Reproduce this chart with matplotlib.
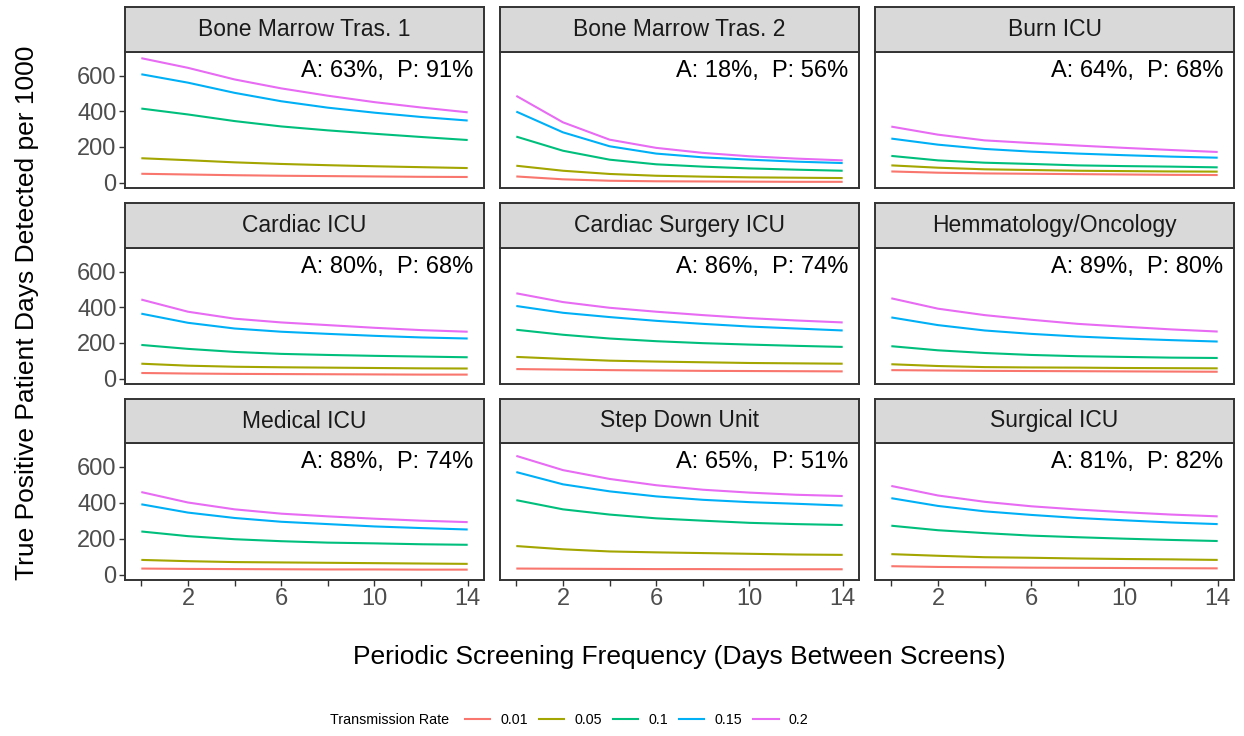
import numpy as np
import matplotlib
matplotlib.use('Agg')
from matplotlib import pyplot as plt
from matplotlib import font_manager
from matplotlib.lines import Line2D

# days between screens (x) for every curve
days = [0, 2, 4, 6, 8, 10, 12, 14]
rates = ['0.01', '0.05', '0.1', '0.15', '0.2']
colors = ['#F8766D', '#A3A500', '#00BF7D', '#00B0F6', '#E76BF3']

units = ['Bone Marrow Tras. 1', 'Bone Marrow Tras. 2', 'Burn ICU',
         'Cardiac ICU', 'Cardiac Surgery ICU', 'Hemmatology/Oncology',
         'Medical ICU', 'Step Down Unit', 'Surgical ICU']
acc = [63, 18, 64, 80, 86, 89, 88, 65, 81]
ppv = [91, 56, 68, 68, 74, 80, 74, 51, 82]

# true positive patient days per 1000, one row per transmission rate
bmt1 = [[50, 46, 42, 39, 37, 35, 33, 32],
        [137, 126, 114, 105, 98, 92, 87, 82],
        [415, 382, 345, 315, 293, 274, 256, 239],
        [607, 560, 503, 456, 420, 392, 368, 348],
        [697, 643, 578, 528, 487, 451, 421, 394]]
bmt2 = [[35, 19, 11, 8, 7, 6, 5, 5],
        [95, 67, 49, 39, 34, 30, 28, 26],
        [258, 179, 129, 103, 90, 80, 73, 67],
        [398, 282, 204, 163, 142, 129, 118, 110],
        [486, 338, 241, 195, 167, 148, 135, 125]]
burn = [[63, 56, 52, 50, 48, 46, 44, 43],
        [97, 84, 75, 71, 67, 65, 63, 62],
        [150, 125, 112, 105, 97, 93, 90, 86],
        [247, 213, 189, 174, 163, 154, 146, 140],
        [314, 269, 237, 222, 208, 195, 183, 172]]
cardiac = [[32, 29, 27, 26, 25, 24, 23, 23],
           [84, 73, 67, 64, 62, 60, 58, 57],
           [189, 167, 150, 139, 133, 128, 124, 120],
           [364, 313, 281, 263, 251, 240, 231, 225],
           [443, 375, 336, 315, 300, 285, 272, 263]]
cardiac_surg = [[54, 51, 48, 46, 44, 43, 42, 41],
                [122, 111, 101, 96, 92, 88, 86, 84],
                [274, 246, 225, 210, 199, 191, 184, 178],
                [407, 369, 345, 324, 307, 292, 281, 270],
                [478, 429, 397, 375, 356, 339, 326, 315]]
hem_onc = [[48, 46, 44, 43, 42, 41, 40, 39],
           [81, 71, 65, 63, 62, 60, 59, 58],
           [182, 159, 144, 133, 126, 122, 118, 116],
           [343, 300, 270, 251, 236, 225, 216, 208],
           [450, 392, 356, 330, 307, 291, 276, 264]]
medical = [[34, 32, 31, 30, 29, 29, 28, 28],
           [82, 75, 70, 68, 66, 64, 62, 60],
           [240, 214, 197, 186, 178, 174, 169, 166],
           [391, 345, 315, 294, 281, 268, 259, 251],
           [459, 401, 363, 339, 324, 311, 300, 292]]
step_down = [[34, 33, 32, 31, 31, 30, 30, 30],
             [159, 141, 129, 124, 120, 116, 112, 110],
             [414, 363, 334, 313, 300, 288, 281, 276],
             [570, 502, 463, 435, 416, 403, 394, 384],
             [660, 581, 532, 497, 472, 456, 444, 437]]
surgical = [[47, 43, 41, 39, 38, 37, 36, 35],
            [114, 105, 97, 94, 90, 87, 85, 82],
            [272, 247, 231, 217, 208, 200, 193, 187],
            [425, 382, 352, 332, 315, 302, 290, 281],
            [493, 440, 405, 380, 362, 347, 334, 324]]

curves = [bmt1, bmt2, burn, cardiac, cardiac_surg, hem_onc, medical, step_down, surgical]

available = {f.name for f in font_manager.fontManager.ttflist}
base_font = 'Liberation Sans' if 'Liberation Sans' in available else 'DejaVu Sans'
plt.rcParams['font.family'] = [base_font, 'DejaVu Sans']

W, H = 1244, 736
fig = plt.figure(figsize=(W / 100, H / 100), dpi=100)

col_left = [125, 500, 875]
panel_w = 359
# (strip top, panel top, panel bottom) in pixels
rows = [(7, 52, 188), (203, 248, 384), (399, 443, 580)]
dark = '#333333'

# shared y scale with ggplot style 5% padding
all_vals = np.array(curves, dtype=float)
lo, hi = all_vals.min(), all_vals.max()
pad = 0.05 * (hi - lo)
ylim = (lo - pad, hi + pad)
xlim = (days[0] - 0.05 * (days[-1] - days[0]), days[-1] + 0.05 * (days[-1] - days[0]))


def frac(x, y, w, h):
    return [x / W, 1 - (y + h) / H, w / W, h / H]


for i, unit in enumerate(units):
    r, c = divmod(i, 3)
    s_top, p_top, p_bot = rows[r]
    left = col_left[c]

    ax = fig.add_axes(frac(left, p_top, panel_w, p_bot - p_top))
    for vals, col in zip(curves[i], colors):
        ax.plot(days, vals, color=col, lw=1.5, solid_capstyle='butt')
    ax.set_xlim(xlim)
    ax.set_ylim(ylim)
    ax.set_xticks(days)
    ax.set_xticklabels(['' if d % 4 == 0 else str(d) for d in days])
    ax.set_yticks([0, 200, 400, 600])
    for sp in ax.spines.values():
        sp.set_color(dark)
        sp.set_linewidth(1.4)
    ax.tick_params(length=4, width=1.0, color=dark, labelsize=17,
                   labelcolor='#4D4D4D', pad=2)
    if c != 0:
        ax.tick_params(axis='y', left=False, labelleft=False)
    if r != 2:
        ax.tick_params(axis='x', bottom=False, labelbottom=False)

    ax.text(1 - 11 / panel_w, 1 - 19 / (p_bot - p_top),
            f'A: {acc[i]}%,  P: {ppv[i]}%', transform=ax.transAxes,
            ha='right', va='center', fontsize=17, color='black')

    # facet strip
    sx = fig.add_axes(frac(left, s_top, panel_w, p_top - s_top))
    sx.set_facecolor('#D9D9D9')
    sx.set_xticks([])
    sx.set_yticks([])
    for sp in sx.spines.values():
        sp.set_color(dark)
        sp.set_linewidth(1.4)
    sx.text(0.5, 0.5, unit, ha='center', va='center', fontsize=16.5,
            color='#1A1A1A', transform=sx.transAxes)

fig.text(27 / W, 1 - 313 / H, 'True Positive Patient Days Detected per 1000',
         rotation=90, ha='center', va='center', fontsize=19)
fig.text(679 / W, 1 - 657 / H, 'Periodic Screening Frequency (Days Between Screens)',
         ha='center', va='center', fontsize=19)

# legend along the bottom
fig.text(330 / W, 1 - 720 / H, 'Transmission Rate', ha='left', va='center',
         fontsize=10.3)
handles = [Line2D([], [], color=col, lw=1.5) for col in colors]
fig.legend(handles, rates, loc='center left', bbox_to_anchor=(465 / W, 1 - 720 / H),
           ncol=5, frameon=False, handlelength=1.75, handletextpad=0.7,
           columnspacing=0.8, borderpad=0, borderaxespad=0,
           prop={'size': 10.3})

fig.savefig('out.png', dpi=100)
